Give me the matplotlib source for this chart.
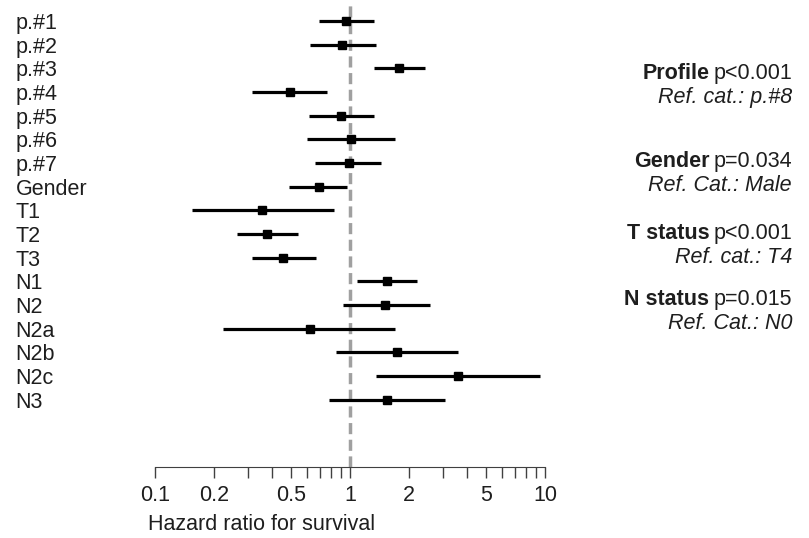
import matplotlib
matplotlib.use("Agg")
import matplotlib.pyplot as plt
from matplotlib.ticker import FixedLocator, NullFormatter
from matplotlib.transforms import blended_transform_factory

plt.rcParams['font.family'] = ['Liberation Sans', 'DejaVu Sans']

# values (hazard ratio, lower and upper CI)
labels = ['p.#1', 'p.#2', 'p.#3', 'p.#4', 'p.#5', 'p.#6', 'p.#7', 'Gender',
          'T1', 'T2', 'T3', 'N1', 'N2', 'N2a', 'N2b', 'N2c', 'N3']
hr = [0.95, 0.91, 1.79, 0.49, 0.90, 1.01, 0.99, 0.69,
      0.355, 0.374, 0.453, 1.54, 1.52, 0.62, 1.745, 3.56, 1.54]
lower = [0.69, 0.62, 1.33, 0.316, 0.618, 0.605, 0.664, 0.484,
         0.154, 0.262, 0.313, 1.09, 0.92, 0.223, 0.849, 1.36, 0.783]
upper = [1.33, 1.355, 2.42, 0.76, 1.33, 1.70, 1.45, 0.966,
         0.83, 0.538, 0.667, 2.2, 2.56, 1.70, 3.6, 9.42, 3.08]

major_ticks = [0.1, 0.2, 0.5, 1, 2, 5, 10]
major_labels = ['0.1', '0.2', '0.5', '1', '2', '5', '10']
minor_ticks = [0.3, 0.4, 0.6, 0.7, 0.8, 0.9, 3, 4, 6, 7, 8, 9]

# right side notes: bold title, p value, reference category
notes = [('Profile', 'p<0.001', 'Ref. cat.: p.#8'),
         ('Gender', 'p=0.034', 'Ref. Cat.: Male'),
         ('T status', 'p<0.001', 'Ref. cat.: T4'),
         ('N status', 'p=0.015', 'Ref. Cat.: N0')]
note_rows = [2.12, 5.84, 8.85, 11.64]

fs = 15.5
tc = '#1e1e1e'

fig = plt.figure(figsize=(8.09, 5.38), dpi=100)
ax = fig.add_axes([155 / 809, 1 - 467 / 538, 390 / 809, 463 / 538])

rows = list(range(len(labels)))
ax.axvline(1, color='#a0a0a0', lw=2.5, ls=(0, (3.2, 1.6)), zorder=1)
ax.hlines(rows, lower, upper, color='black', lw=2.3, zorder=2)
ax.plot(hr, rows, 's', color='black', ms=5.2, zorder=3)

ax.set_xscale('log')
ax.set_xlim(0.1, 10)
ax.set_ylim(18.84, -0.72)

ax.xaxis.set_major_locator(FixedLocator(major_ticks))
ax.set_xticklabels(major_labels)
ax.xaxis.set_minor_locator(FixedLocator(minor_ticks))
ax.xaxis.set_minor_formatter(NullFormatter())
ax.tick_params(axis='x', which='both', length=8, width=1, color='#404040',
               labelsize=fs, pad=5, labelcolor=tc)
ax.set_yticks([])
for s in ['top', 'right', 'left']:
    ax.spines[s].set_visible(False)
ax.spines['bottom'].set_color('#404040')

fig.text(148 / 809, 1 - 524 / 538, 'Hazard ratio for survival', fontsize=fs,
         ha='left', va='center', color=tc)

tr = blended_transform_factory(fig.transFigure, ax.transData)
for i, lab in enumerate(labels):
    ax.text(15.5 / 809, i, lab, transform=tr, fontsize=fs,
            ha='left', va='center_baseline', color=tc)

fig.canvas.draw()
for (title, pval, ref), r in zip(notes, note_rows):
    t1 = ax.text(792 / 809, r, pval, transform=tr, fontsize=fs, ha='right',
                 va='center_baseline', color=tc)
    fig.canvas.draw()
    bb = t1.get_window_extent()
    ax.text(bb.x0 / 809 - 0.005, r, title, transform=tr, fontsize=fs,
            ha='right', va='center_baseline', fontweight='bold', color=tc)
    ax.text(792 / 809, r + 1.02, ref, transform=tr, fontsize=fs, ha='right',
            va='center_baseline', style='italic', color=tc)

fig.savefig('out.png', dpi=100)
